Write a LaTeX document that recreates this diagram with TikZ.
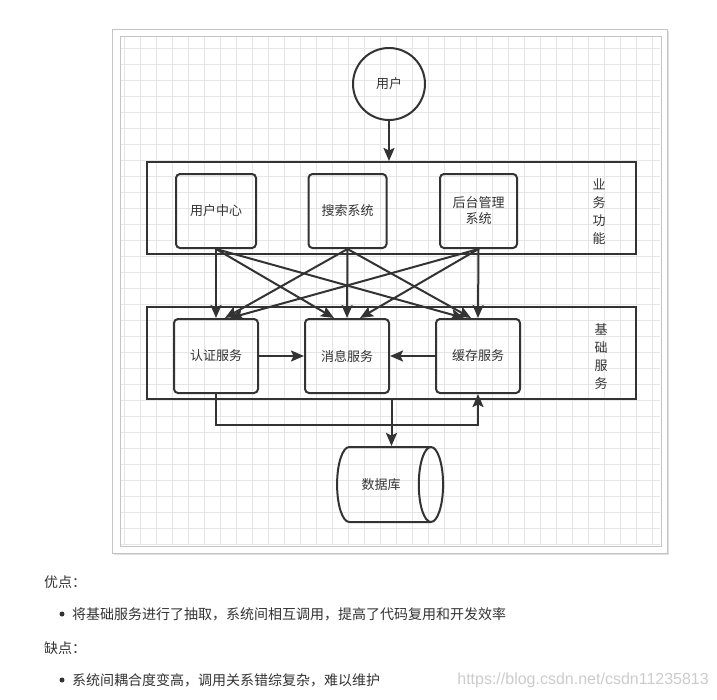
\documentclass[tikz,border=0pt]{standalone}
\usepackage{fontspec}
\setmainfont{Noto Sans CJK SC}
\newfontfamily\wmfont{Liberation Sans}
\usetikzlibrary{arrows.meta, shapes.geometric}
\definecolor{ink}{HTML}{333333}
\definecolor{gridline}{HTML}{E6E6E6}
\definecolor{frameline}{HTML}{C4C4C4}

\begin{document}
\begin{tikzpicture}[
  x=1pt, y=-1pt, >={Stealth[length=13pt, width=11pt, inset=2.5pt]},
  font=\fontsize{13}{16}\selectfont,
  box/.style={draw=ink, line width=2pt, rounded corners=4pt, minimum width=80pt,
    minimum height=74pt, align=center, text=ink, inner sep=1pt},
  layer/.style={draw=ink, line width=2pt, minimum width=489pt, minimum height=92pt},
  side/.style={align=center, text=ink, font=\fontsize{13}{18}\selectfont},
  arr/.style={->, line width=2pt, draw=ink},
  note/.style={anchor=west, text=ink, inner sep=0pt, font=\fontsize{14}{16}\selectfont},
  dot/.style={circle, fill=ink, inner sep=0pt, minimum size=5pt},
]

  % Page and canvas
  \useasboundingbox[fill=white] (0,0) rectangle (717,699);
  \fill[black!12] (114,31) rectangle (669,555);
  \draw[frameline, fill=white] (112.5,29.5) rectangle (667,553);
  \draw[frameline] (120,36) rectangle (661,546);
  \foreach \gx in {124,140,...,652} \draw[gridline] (\gx,37) -- (\gx,545);
  \foreach \gy in {48,64,...,544} \draw[gridline] (121,\gy) -- (660,\gy);

  % User
  \node[circle, draw=ink, line width=2pt, minimum size=72pt, text=ink] (user) at (389,84) {用户};

  % Business layer
  \node[layer] (bizframe) at (391.5,208) {};
  \node[box] (ucenter) at (216,211) {用户中心};
  \node[box, minimum width=78pt] (search) at (347.5,211) {搜索系统};
  \node[box, minimum width=77pt] (admin) at (478.5,211) {后台管理\\系统};
  \node[side] (bizlabel) at (599,212) {业\\务\\功\\能};

  % Base service layer
  \node[layer] (baseframe) at (391.5,353) {};
  \node[box, minimum width=84pt] (auth) at (216,356) {认证服务};
  \node[box, minimum width=84pt] (msg) at (347,356) {消息服务};
  \node[box, minimum width=84pt] (cache) at (478,356) {缓存服务};
  \node[side] (baselabel) at (601,357) {基\\础\\服\\务};

  % Database
  \node[cylinder, draw=ink, line width=2pt, minimum height=106pt, minimum width=75pt,
    aspect=1.3, text=ink] (db) at (381,484.5) {数据库};

  % User -> business layer
  \draw[arr] (user.south) -- (user.south |- bizframe.north);

  % Business systems -> base services
  \draw[arr] (ucenter.south) -- (auth.north);
  \draw[arr] (ucenter.south) -- ([xshift=-13pt]msg.north);
  \draw[arr] (ucenter.south) -- ([xshift=-14pt]cache.north);
  \draw[arr] (search.south) -- ([xshift=9pt]auth.north);
  \draw[arr] (search.south) -- (msg.north);
  \draw[arr] (search.south) -- ([xshift=-7pt]cache.north);
  \draw[arr] (admin.south) -- ([xshift=14pt]auth.north);
  \draw[arr] (admin.south) -- ([xshift=13pt]msg.north);
  \draw[arr] (admin.south) -- (cache.north);

  % Calls between base services
  \draw[arr] (auth.east) -- (msg.west);
  \draw[arr] (cache.west) -- (msg.east);
  \draw[arr] (auth.south) -- ++(0,31) -| (cache.south);

  % Base layer -> database
  \draw[arr] (baseframe.south) -- (baseframe.south |- db.north);

  % Notes below
  \node[note] (pros) at (44,582) {优点：};
  \node[dot] (prodot) at (62,614) {};
  \node[note] (pro1) at (72,614) {将基础服务进行了抽取，系统间相互调用，提高了代码复用和开发效率};
  \node[note] (cons) at (44,648) {缺点：};
  \node[dot] (condot) at (62,680) {};
  \node[note] (con1) at (72,680) {系统间耦合度变高，调用关系错综复杂，难以维护};
  \node[anchor=east, inner sep=0pt, text=black!20, font=\wmfont\fontsize{16}{18}\selectfont]
    (mark) at (709,680) {https://blog.csdn.net/csdn11235813};

\end{tikzpicture}
\end{document}
